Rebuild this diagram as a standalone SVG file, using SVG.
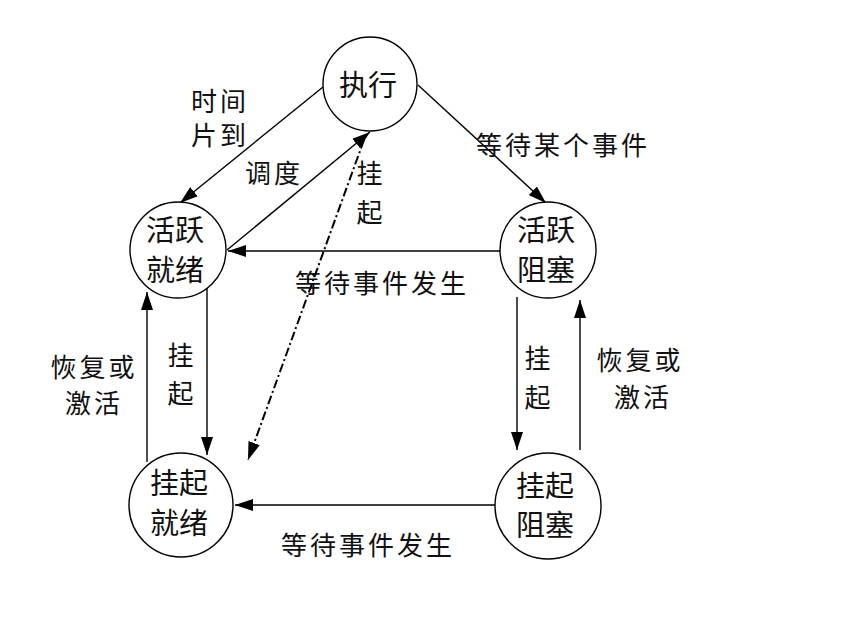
<svg xmlns="http://www.w3.org/2000/svg" width="862" height="639" viewBox="0 0 862 639">
<style>
.node circle{fill:#fff;stroke:#000;stroke-width:1.4}
text{font-family:"Noto Sans CJK SC","Liberation Sans",sans-serif;font-size:29px;fill:#111;text-anchor:middle}
#labels text{font-size:26px;letter-spacing:3px}
.c line{stroke:#000;stroke-width:1.4;marker-end:url(#ah)}
.c .dd{stroke-dasharray:9,3,2,3;stroke-width:2}
</style>
<defs>
<marker id="ah" markerUnits="userSpaceOnUse" markerWidth="18" markerHeight="12" refX="18" refY="6" orient="auto">
<path d="M0,0 L18,6 L0,12 z" fill="#000"/>
</marker>
</defs>
<rect width="862" height="639" fill="#fff"/>
<g class="c" id="connectors">
<line x1="323" y1="87" x2="180" y2="203"/>
<line x1="227" y1="250" x2="370" y2="132"/>
<line class="dd" x1="364" y1="140" x2="248" y2="460"/>
<line x1="418" y1="85" x2="546" y2="203"/>
<line x1="500" y1="251" x2="228" y2="251"/>
<line x1="207" y1="288" x2="207" y2="455"/>
<line x1="147" y1="462" x2="147" y2="292"/>
<line x1="517" y1="297" x2="517" y2="450"/>
<line x1="580" y1="450" x2="580" y2="300"/>
<line x1="495" y1="505" x2="235" y2="505"/>
</g>
<g class="node" id="n-exec"><circle cx="370" cy="84" r="47"/><text x="368" y="96">执行</text></g>
<g class="node" id="n-ar"><circle cx="178" cy="250" r="48"/><text x="175" y="241">活跃</text><text x="175" y="281">就绪</text></g>
<g class="node" id="n-ab"><circle cx="548" cy="250" r="48"/><text x="546" y="241">活跃</text><text x="546" y="281">阻塞</text></g>
<g class="node" id="n-sr"><circle cx="181" cy="505" r="52"/><text x="179" y="494">挂起</text><text x="179" y="534">就绪</text></g>
<g class="node" id="n-sb"><circle cx="548" cy="506" r="53"/><text x="545" y="497">挂起</text><text x="545" y="536">阻塞</text></g>
<g id="labels">
<text x="220" y="111">时间</text><text x="220" y="145">片到</text>
<text x="274" y="183">调度</text>
<text x="371" y="183">挂</text><text x="371" y="222">起</text>
<text x="563" y="155">等待某个事件</text>
<text x="382" y="293">等待事件发生</text>
<text x="368" y="555">等待事件发生</text>
<text x="182" y="365">挂</text><text x="182" y="403">起</text>
<text x="94" y="377">恢复或</text><text x="94" y="413">激活</text>
<text x="539" y="368">挂</text><text x="539" y="407">起</text>
<text x="640" y="370">恢复或</text><text x="643" y="407">激活</text>
</g>
</svg>
